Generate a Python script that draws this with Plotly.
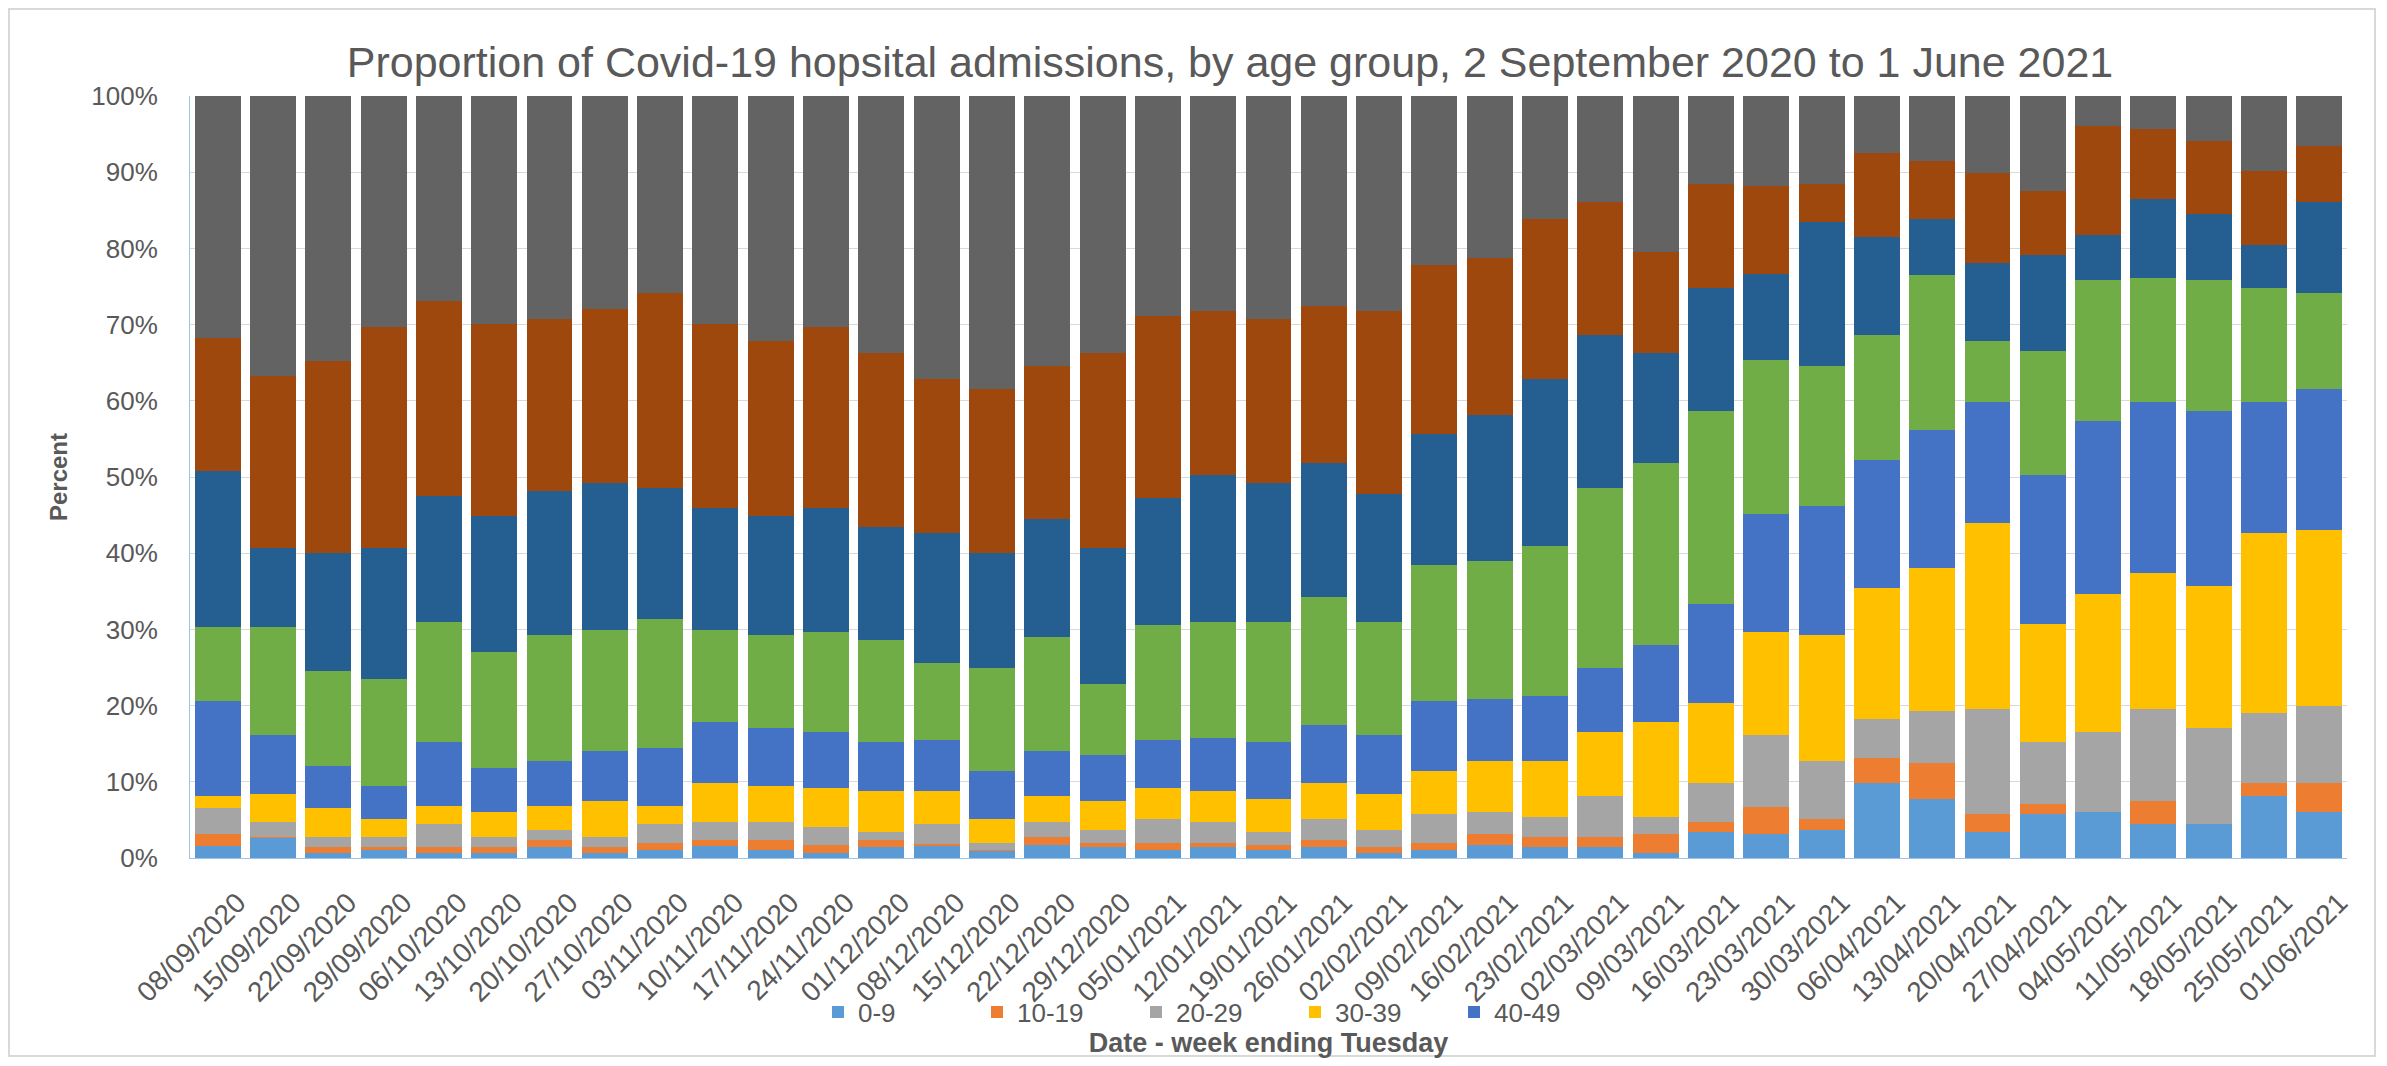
import plotly.graph_objects as go

weeks = ["08/09/2020", "15/09/2020", "22/09/2020", "29/09/2020", "06/10/2020", "13/10/2020",
         "20/10/2020", "27/10/2020", "03/11/2020", "10/11/2020", "17/11/2020", "24/11/2020",
         "01/12/2020", "08/12/2020", "15/12/2020", "22/12/2020", "29/12/2020", "05/01/2021",
         "12/01/2021", "19/01/2021", "26/01/2021", "02/02/2021", "09/02/2021", "16/02/2021",
         "23/02/2021", "02/03/2021", "09/03/2021", "16/03/2021", "23/03/2021", "30/03/2021",
         "06/04/2021", "13/04/2021", "20/04/2021", "27/04/2021", "04/05/2021", "11/05/2021",
         "18/05/2021", "25/05/2021", "01/06/2021"]

age_groups = ["0-9", "10-19", "20-29", "30-39", "40-49", "50-59", "60-69", "70-79", "80+"]

age_0_9 = [1.6, 2.7, 0.6, 1.1, 0.6, 0.6, 1.4, 0.6, 1.0, 1.6, 1.0, 0.6, 1.4, 1.6, 1.0, 1.7, 1.4,
           1.0, 1.4, 1.0, 1.4, 0.6, 1.0, 1.7, 1.4, 1.4, 0.6, 3.4, 3.1, 3.7, 9.8, 7.8, 3.4, 5.8,
           6.1, 4.4, 4.4, 8.1, 6.1]
age_10_19 = [1.5, 0.1, 0.8, 0.3, 0.8, 0.8, 1.0, 0.8, 1.0, 0.8, 1.4, 1.1, 1.0, 0.2, 0.1, 1.0, 0.6,
             1.0, 0.6, 0.7, 1.0, 0.8, 1.0, 1.4, 1.3, 1.3, 2.5, 1.3, 3.6, 1.4, 3.3, 4.7, 2.4, 1.3,
             0.0, 3.1, 0.0, 1.7, 3.7]
age_20_29 = [3.4, 1.9, 1.3, 1.3, 3.0, 1.3, 1.3, 1.3, 2.4, 2.3, 2.3, 2.4, 1.0, 2.6, 0.9, 2.0, 1.7,
             3.1, 2.7, 1.7, 2.7, 2.3, 3.8, 3.0, 2.7, 5.4, 2.3, 5.1, 9.4, 7.6, 5.2, 6.8, 13.8, 8.1,
             10.4, 12.1, 12.7, 9.2, 10.1]
age_30_39 = [1.7, 3.7, 3.8, 2.4, 2.4, 3.4, 3.1, 4.8, 2.4, 5.1, 4.8, 5.1, 5.4, 4.4, 3.1, 3.5, 3.8,
             4.1, 4.1, 4.4, 4.7, 4.7, 5.6, 6.6, 7.3, 8.4, 12.4, 10.5, 13.5, 16.6, 17.1, 18.7, 24.3,
             15.5, 18.1, 17.8, 18.6, 23.7, 23.2]
age_40_49 = [12.4, 7.7, 5.6, 4.4, 8.4, 5.7, 5.9, 6.6, 7.6, 8.0, 7.6, 7.3, 6.4, 6.7, 6.3, 5.9, 6.0,
             6.3, 7.0, 7.4, 7.7, 7.7, 9.2, 8.2, 8.5, 8.5, 10.2, 13.0, 15.6, 16.9, 16.8, 18.2, 16.0,
             19.5, 22.7, 22.5, 22.9, 17.2, 18.5]
age_50_59 = [9.7, 14.2, 12.5, 14.0, 15.8, 15.2, 16.6, 15.8, 16.9, 12.1, 12.2, 13.1, 13.4, 10.1, 13.6,
             14.9, 9.4, 15.1, 15.2, 15.8, 16.8, 14.9, 17.8, 18.1, 19.8, 23.5, 23.8, 25.3, 20.1, 18.4,
             16.5, 20.3, 8.0, 16.4, 18.5, 16.2, 17.2, 14.9, 12.5]
age_60_69 = [20.5, 10.4, 15.4, 17.2, 16.5, 17.9, 18.9, 19.3, 17.2, 16.0, 15.6, 16.3, 14.9, 17.1, 15.0,
             15.5, 17.8, 16.6, 19.2, 18.2, 17.5, 16.8, 17.2, 19.2, 21.9, 20.1, 14.5, 16.2, 11.4, 18.9,
             12.8, 7.3, 10.2, 12.6, 6.0, 10.4, 8.7, 5.7, 12.0]
age_70_79 = [17.5, 22.6, 25.2, 29.0, 25.6, 25.2, 22.5, 22.9, 25.6, 24.2, 23.0, 23.8, 22.8, 20.2, 21.6,
             20.1, 25.6, 23.9, 21.6, 21.5, 20.6, 24.0, 22.2, 20.6, 20.9, 17.5, 13.2, 13.7, 11.5, 5.0,
             11.0, 7.7, 11.8, 8.3, 14.2, 9.2, 9.6, 9.7, 7.4]
age_80_plus = [31.7, 36.7, 34.8, 30.3, 26.9, 29.9, 29.3, 27.9, 25.9, 29.9, 32.1, 30.3, 33.7, 37.1, 38.4,
               35.4, 33.7, 28.9, 28.2, 29.3, 27.6, 28.2, 22.2, 21.2, 16.2, 13.9, 20.5, 11.5, 11.8, 11.5,
               7.5, 8.5, 10.1, 12.5, 4.0, 4.3, 5.9, 9.8, 6.5]

series = [age_0_9, age_10_19, age_20_29, age_30_39, age_40_49,
          age_50_59, age_60_69, age_70_79, age_80_plus]
colors = ["#5B9BD5", "#ED7D31", "#A5A5A5", "#FFC000", "#4472C4",
          "#70AD47", "#255E91", "#9E480E", "#636363"]
legend_visible = [True, True, True, True, True, False, False, False, False]

# the page body adds an 8 px offset, so the figure is laid out in page px minus 8
OFF = 8
W, H = 2387 - 2 * OFF, 1066 - 2 * OFF
ML, MT = 190 - OFF, 96 - OFF
PLOT_R, PLOT_B = 2347 - OFF, 858 - OFF
MR, MB = W - PLOT_R, H - PLOT_B
PW, PH = W - ML - MR, H - MT - MB

FONT = "Liberation Sans"
TXT = "#595959"

fig = go.Figure()
for name, vals, col, show in zip(age_groups, series, colors, legend_visible):
    fig.add_trace(go.Bar(x=weeks, y=vals, name=name, marker=dict(color=col, line=dict(width=0)),
                         showlegend=show))


def px_x(p):
    return (p - OFF - ML) / PW


def px_y(p):
    return (PLOT_B - (p - OFF)) / PH


fig.update_layout(
    width=W, height=H,
    margin=dict(l=ML, r=MR, t=MT, b=MB, autoexpand=False),
    barmode="stack", barnorm="percent", bargap=0.17,
    plot_bgcolor="white", paper_bgcolor="white",
    font=dict(family=FONT, color=TXT, size=26),
    title=dict(text="Proportion of Covid-19 hopsital admissions, by age group, 2 September 2020 to 1 June 2021",
               x=(1230 - OFF) / W, xanchor="center", xref="container",
               y=1 - (62 - OFF) / H, yanchor="middle", yref="container",
               font=dict(family=FONT, size=43, color=TXT)),
    legend=dict(orientation="h", x=px_x(818), xanchor="left", y=px_y(1012), yanchor="middle",
                font=dict(size=26, color=TXT), entrywidth=114, traceorder="normal",
                bgcolor="rgba(0,0,0,0)"),
    xaxis=dict(tickangle=-45, tickfont=dict(size=28, color=TXT), showgrid=False,
               showline=True, linecolor="#9DC3E6", linewidth=1, automargin=False,
               ticklabelstandoff=16, ticklabelshift=20,
               title=dict(text="<b>Date - week ending Tuesday</b>", standoff=35,
                          font=dict(size=27, color=TXT))),
    yaxis=dict(range=[0, 100], dtick=10, ticksuffix="%", tickfont=dict(size=26, color=TXT),
               showgrid=True, gridcolor="#D9D9D9", gridwidth=1, zeroline=False,
               showline=True, linecolor="#9DC3E6", linewidth=1, automargin=False,
               ticklabelstandoff=26,
               title=dict(text="<b>Percent</b>", standoff=16, font=dict(size=24, color=TXT))),
    shapes=[dict(type="rect", xref="paper", yref="paper",
                 x0=px_x(9), x1=px_x(2375), y0=px_y(1056), y1=px_y(9),
                 line=dict(color="#D9D9D9", width=2), fillcolor="rgba(0,0,0,0)", layer="below")],
)

fig.write_html("out.html")
